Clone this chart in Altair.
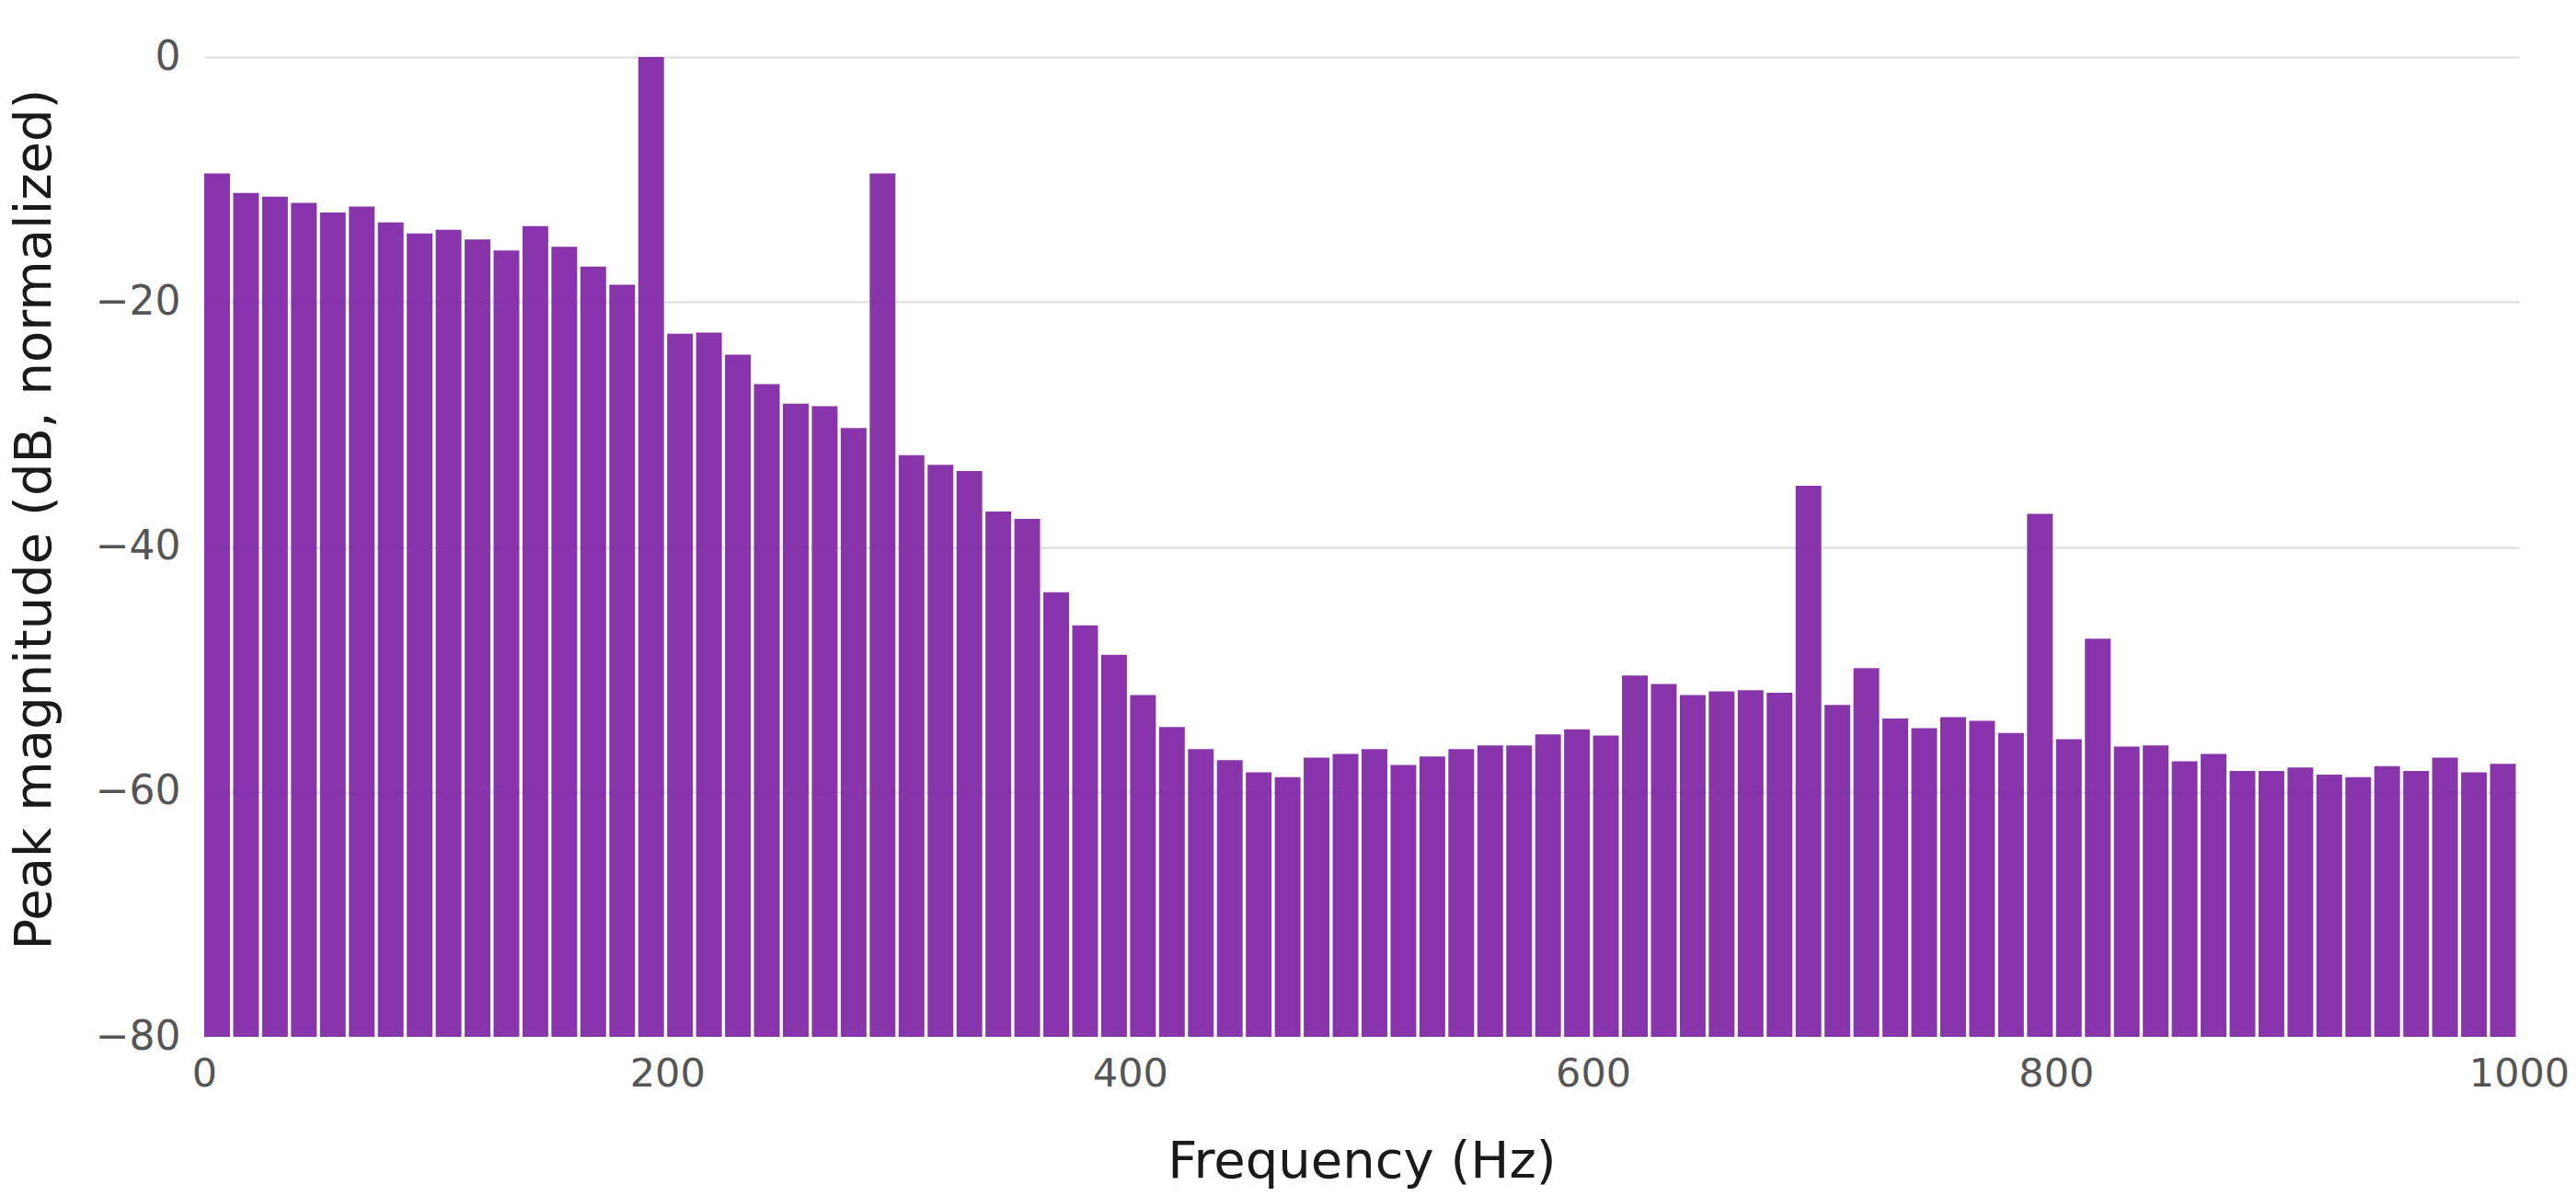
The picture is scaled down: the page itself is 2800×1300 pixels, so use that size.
import altair as alt
import pandas as pd

# Frequency bins (Hz): 80 bins of 12.5 Hz from 0 to 1000
BIN_WIDTH = 12.5
bin_start_hz = [i * BIN_WIDTH for i in range(80)]

# Peak magnitude per bin (dB, normalized)
peak_db = [
    -9.5, -11.1, -11.4, -11.9, -12.7, -12.2, -13.5, -14.4, -14.1, -14.9,
    -15.8, -13.8, -15.5, -17.1, -18.6, 0.0, -22.6, -22.5, -24.3, -26.7,
    -28.3, -28.5, -30.3, -9.5, -32.5, -33.3, -33.8, -37.1, -37.7, -43.7,
    -46.4, -48.8, -52.1, -54.7, -56.5, -57.4, -58.4, -58.8, -57.2, -56.9,
    -56.5, -57.8, -57.1, -56.5, -56.2, -56.2, -55.3, -54.9, -55.4, -50.5,
    -51.2, -52.1, -51.8, -51.7, -51.9, -35.0, -52.9, -49.9, -54.0, -54.8,
    -53.9, -54.2, -55.2, -37.3, -55.7, -47.5, -56.3, -56.2, -57.5, -56.9,
    -58.3, -58.3, -58.0, -58.6, -58.8, -57.9, -58.3, -57.2, -58.4, -57.7,
]

x_ticks = [0, 200, 400, 600, 800, 1000]
y_ticks = [0, -20, -40, -60, -80]

df = pd.DataFrame({
    "start": bin_start_hz,
    "end": [s + BIN_WIDTH for s in bin_start_hz],
    "db": peak_db,
})

FONT = "DejaVu Sans"

chart = alt.Chart(df).mark_bar(
    color="#7B1FA2", opacity=0.9, x2Offset=-3.5
).encode(
    x=alt.X(
        "start:Q",
        scale=alt.Scale(domain=[0, 1000], nice=False, zero=False),
        axis=alt.Axis(
            values=x_ticks, grid=False, domain=False, ticks=False, tickSize=0,
            labelPadding=19, labelFlush=False, labelFontSize=43,
            labelColor="#555555", labelFont=FONT, format="d",
            title="Frequency (Hz)", titleFont=FONT, titleFontSize=56,
            titleFontWeight="normal", titleColor="#1a1a1a",
            titleY=152, titleBaseline="alphabetic",
        ),
    ),
    x2="end:Q",
    y=alt.Y(
        "db:Q",
        scale=alt.Scale(domain=[-80, 0], nice=False, zero=False),
        axis=alt.Axis(
            values=y_ticks, grid=True,
            gridColor={"condition": {"test": "datum.value === -80", "value": "transparent"},
                       "value": "#e3e3e3"},
            gridWidth=2.5, domain=False, ticks=False, tickSize=0,
            labelPadding=26, labelFlush=False, labelFontSize=44,
            labelColor="#555555", labelFont=FONT, format="d",
            title="Peak magnitude (dB, normalized)", titleFont=FONT,
            titleFontSize=56, titleFontWeight="normal", titleColor="#1a1a1a",
            titleAngle=270, titleBaseline="alphabetic", titleAlign="center",
            titleX=-168, titleY=502,
        ),
    ),
    y2=alt.datum(-80),
).properties(
    width=2516,
    height=1065,
    autosize=alt.AutoSizeParams(type="none"),
    padding={"left": 214, "top": 54, "right": 54, "bottom": 165},
).configure_view(stroke=None)

chart.save("out.html", embed_options={"renderer": "svg", "actions": False})
